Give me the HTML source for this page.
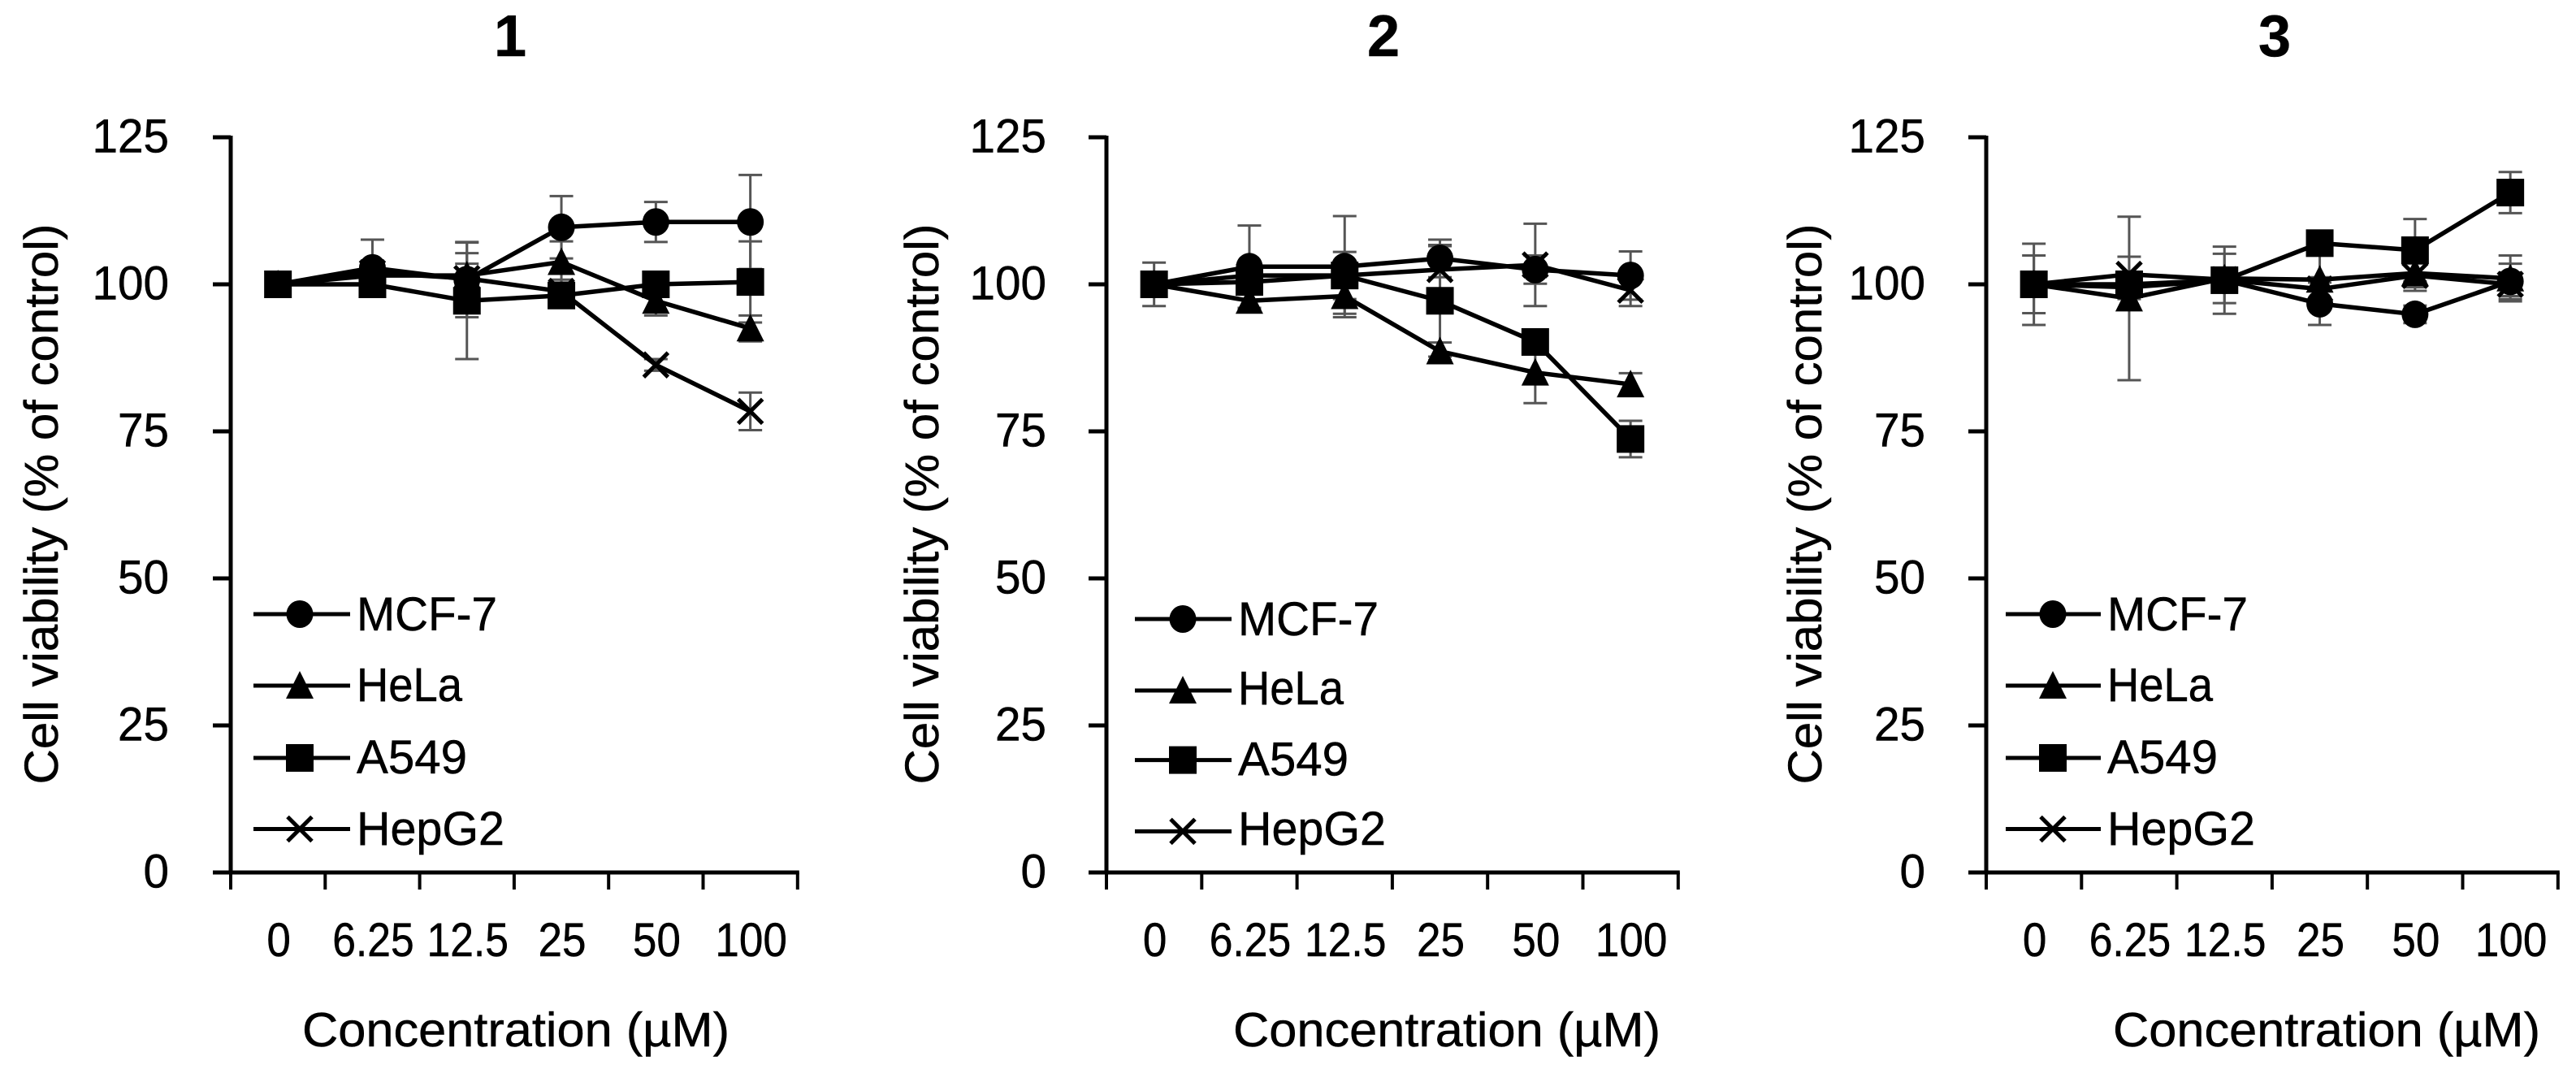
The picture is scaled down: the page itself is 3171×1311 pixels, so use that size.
<!DOCTYPE html>
<html lang="en">
<head>
<meta charset="utf-8">
<title>Cell viability charts</title>
<style>
html,body{margin:0;padding:0;background:#fff;}
svg{display:block;}
text{font-family:"Liberation Sans",sans-serif;fill:#000;stroke:#000;stroke-width:0.5px;}
</style>
</head>
<body>
<svg id="figure" xmlns="http://www.w3.org/2000/svg" width="3171" height="1311" viewBox="0 0 3171 1311"></svg>
<script>
// ---- shared chart data ----
const concentrations = ['0', '6.25', '12.5', '25', '50', '100'];
const yTickValues = [0, 25, 50, 75, 100, 125];
const seriesNames = ['MCF-7', 'HeLa', 'A549', 'HepG2'];

// ---- panel 1 ----
const panel1Mcf7 = [100, 102.8, 100.8, 109.7, 110.6, 110.6];
const panel1Hela = [100, 101.5, 101.5, 103.8, 97.2, 92.5];
const panel1A549 = [100, 100, 97.2, 98.1, 100, 100.4];
const panel1Hepg2 = [100, 102, 101, 98.8, 86.3, 78.4];
const panel1Mcf7Err = [0, 4.8, 6.4, 5.3, 3.4, 8];
const panel1HelaErr = [0, 2.5, 2, 3.5, 2.5, 2.2];
const panel1A549Err = [0, 1.5, 9.9, 2, 2, 6.9];
const panel1Hepg2Err = [0, 2, 4.3, 2, 1, 3.2];

// ---- panel 2 ----
const panel2Mcf7 = [100, 103, 103, 104.4, 102.5, 101.5];
const panel2Hela = [100, 97.2, 98, 88.6, 85, 83];
const panel2A549 = [100, 100.4, 101.5, 97.2, 90.2, 73.7];
const panel2Hepg2 = [100, 101.5, 101.5, 102.5, 103.3, 99];
const panel2Mcf7Err = [3.7, 7, 8.6, 3.2, 2.4, 4.1];
const panel2HelaErr = [1, 1.5, 3, 1.5, 5.2, 1.9];
const panel2A549Err = [1, 2, 2, 9.5, 1.5, 3.1];
const panel2Hepg2Err = [1, 2, 4, 4, 7, 2.7];

// ---- panel 3 ----
const panel3Mcf7 = [100, 99.5, 100.7, 96.7, 94.9, 100.5];
const panel3Hela = [100, 97.6, 101, 100.8, 101.9, 101];
const panel3A549 = [100, 100, 100.7, 107, 105.8, 115.6];
const panel3Hepg2 = [100, 101.7, 100.8, 99.2, 101.5, 100];
const panel3Mcf7Err = [6.9, 2, 5.7, 3.6, 1.5, 3];
const panel3HelaErr = [4.9, 13.9, 4.2, 4.2, 3, 3.9];
const panel3A549Err = [1, 1.5, 1.5, 2, 5.3, 3.5];
const panel3Hepg2Err = [1, 3, 2, 2, 2, 2];

// ---- drawing ----
const NS = 'http://www.w3.org/2000/svg';
const root = document.getElementById('figure');
const Y_ZERO = 1074;
const Y_PER_UNIT = 7.24;
const BAND_COUNT = concentrations.length;
function yScale(v) { return Y_ZERO - v * Y_PER_UNIT; }
function xScale(layout, i) { return layout.left + (i + 0.5) * layout.band; }

function node(parent, tag, attrs, content) {
  const el = document.createElementNS(NS, tag);
  for (const k in attrs) el.setAttribute(k, attrs[k]);
  if (content !== undefined) el.textContent = content;
  parent.appendChild(el);
  return el;
}
function xLabelWidth(s) { return (s.length - (s.includes('.') ? 1 : 0)) * 29.5 + (s.includes('.') ? 12 : 0); }
function yLabelWidth(s) { return s.length * 31.5; }
function legendTextWidth(s) {
  if (s === 'MCF-7') return 173;
  if (s === 'HeLa') return 130;
  if (s === 'A549') return 136;
  return 182;
}

function drawMarker(parent, kind, cx, cy) {
  let m;
  if (kind === 0) {
    m = node(parent, 'ellipse', {cx: cx, cy: cy, rx: 16.5, ry: 17, fill: '#000'});
    
    
  } else if (kind === 1) {
    m = node(parent, 'polygon', {points: (cx - 17) + ',' + (cy + 16) + ' ' + (cx + 17) + ',' + (cy + 16) + ' ' + cx + ',' + (cy - 18), fill: '#000'});
    
    
  } else if (kind === 2) {
    m = node(parent, 'rect', {x: cx - 17, y: cy - 17, width: 34, height: 34, fill: '#000'});
    
    
  } else {
    m = node(parent, 'path', {d: 'M' + (cx - 15) + ' ' + (cy - 15) + 'L' + (cx + 15) + ' ' + (cy + 15) + 'M' + (cx + 15) + ' ' + (cy - 15) + 'L' + (cx - 15) + ' ' + (cy + 15), stroke: '#000', 'stroke-width': 5, fill: 'none'});
    
    
  }
}

function drawPanel(layout, series, errors) {
  const g = node(root, 'g', {});
  
  

  const title = node(g, 'text', {x: layout.titleX, y: 69, 'text-anchor': 'middle', 'font-size': 72, 'font-weight': 'bold'}, layout.title);
  
  

  const yTitle = node(g, 'text', {x: layout.yTitleX, y: 620.5, 'text-anchor': 'middle', 'font-size': 58, textLength: 690, lengthAdjust: 'spacingAndGlyphs', transform: 'rotate(-90 ' + layout.yTitleX + ' 620.5)'}, 'Cell viability (% of control)');
  
  

  const xTitle = node(g, 'text', {x: layout.xTitleX, y: 1288, 'text-anchor': 'middle', 'font-size': 59, textLength: 526, lengthAdjust: 'spacingAndGlyphs'}, 'Concentration (\u00B5M)');
  
  

  // axes
  const right = layout.left + BAND_COUNT * layout.band;
  const yAxis = node(g, 'line', {x1: layout.left, x2: layout.left, y1: yScale(125) - 2, y2: Y_ZERO + 2, stroke: '#000', 'stroke-width': 5});
  
  
  const xAxis = node(g, 'line', {x1: layout.left - 22, x2: right + 2, y1: Y_ZERO, y2: Y_ZERO, stroke: '#000', 'stroke-width': 5});
  
  

  yTickValues.forEach(function (v) {
    const t = node(g, 'line', {x1: layout.left - 22, x2: layout.left, y1: yScale(v), y2: yScale(v), stroke: '#000', 'stroke-width': 5});
    
    
    const s = String(v);
    const lb = node(g, 'text', {x: layout.yLabelX, y: yScale(v) + 18.5, 'text-anchor': 'end', 'font-size': 58, textLength: yLabelWidth(s), lengthAdjust: 'spacingAndGlyphs'}, s);
    
    
  });
  for (let i = 0; i <= BAND_COUNT; i++) {
    const px = layout.left + i * layout.band;
    const t = node(g, 'line', {x1: px, x2: px, y1: Y_ZERO, y2: Y_ZERO + 21, stroke: '#000', 'stroke-width': 4});
    
    
  }
  concentrations.forEach(function (c, i) {
    const lb = node(g, 'text', {x: xScale(layout, i) + 1, y: 1177, 'text-anchor': 'middle', 'font-size': 58, textLength: xLabelWidth(c), lengthAdjust: 'spacingAndGlyphs'}, c);
    
    
  });

  // error bars
  errors.forEach(function (errs, s) {
    errs.forEach(function (e, i) {
      if (e <= 0) return;
      const px = xScale(layout, i);
      const hi = yScale(series[s][i] + e);
      const lo = yScale(series[s][i] - e);
      const bar = node(g, 'path', {d: 'M' + px + ' ' + hi + 'V' + lo + 'M' + (px - 14.5) + ' ' + hi + 'H' + (px + 14.5) + 'M' + (px - 14.5) + ' ' + lo + 'H' + (px + 14.5), stroke: '#555', 'stroke-width': 3, fill: 'none'});
      
      
    });
  });

  // series, HepG2 at the back and A549 in front
  [3, 0, 1, 2].forEach(function (s) {
    const vals = series[s];
    const line = node(g, 'polyline', {points: vals.map(function (v, i) { return xScale(layout, i) + ',' + yScale(v); }).join(' '), fill: 'none', stroke: '#000', 'stroke-width': 5.5, 'stroke-linejoin': 'round'});
    
    
    vals.forEach(function (v, i) {
      drawMarker(g, s, xScale(layout, i), yScale(v));
    });
  });

  // legend
  const leg = node(g, 'g', {});
  
  
  seriesNames.forEach(function (name, s) {
    const e = node(leg, 'g', {});
    
    
    const ly = layout.legendLineY[s];
    const ll = node(e, 'line', {x1: layout.legendLineX1, x2: layout.legendLineX2, y1: ly, y2: ly, stroke: '#000', 'stroke-width': 5});
    
    
    drawMarker(e, s, layout.legendMarkerX, ly);
    const tx = node(e, 'text', {x: layout.legendTextX, y: layout.legendBaseY[s], 'font-size': 58, textLength: legendTextWidth(name), lengthAdjust: 'spacingAndGlyphs'}, name);
    
    
  });
}

drawPanel(
  {title: '1', titleX: 628, left: 284, band: 116.3, yTitleX: 71, xTitleX: 635, yLabelX: 208,
   legendLineX1: 312, legendLineX2: 431, legendMarkerX: 369, legendTextX: 439,
   legendLineY: [756, 844, 933, 1020.5], legendBaseY: [776, 863, 952, 1040]},
  [panel1Mcf7, panel1Hela, panel1A549, panel1Hepg2],
  [panel1Mcf7Err, panel1HelaErr, panel1A549Err, panel1Hepg2Err]
);
drawPanel(
  {title: '2', titleX: 1703, left: 1362, band: 117.3, yTitleX: 1155, xTitleX: 1781, yLabelX: 1288,
   legendLineX1: 1397, legendLineX2: 1516, legendMarkerX: 1456, legendTextX: 1524,
   legendLineY: [762, 850, 935.6, 1023.4], legendBaseY: [782, 867, 954.6, 1040]},
  [panel2Mcf7, panel2Hela, panel2A549, panel2Hepg2],
  [panel2Mcf7Err, panel2HelaErr, panel2A549Err, panel2Hepg2Err]
);
drawPanel(
  {title: '3', titleX: 2800, left: 2445, band: 117.3, yTitleX: 2242, xTitleX: 2864, yLabelX: 2370,
   legendLineX1: 2469, legendLineX2: 2586, legendMarkerX: 2527, legendTextX: 2594,
   legendLineY: [756, 844, 933, 1020.5], legendBaseY: [776, 863, 952, 1040]},
  [panel3Mcf7, panel3Hela, panel3A549, panel3Hepg2],
  [panel3Mcf7Err, panel3HelaErr, panel3A549Err, panel3Hepg2Err]
);
</script>
</body>
</html>
